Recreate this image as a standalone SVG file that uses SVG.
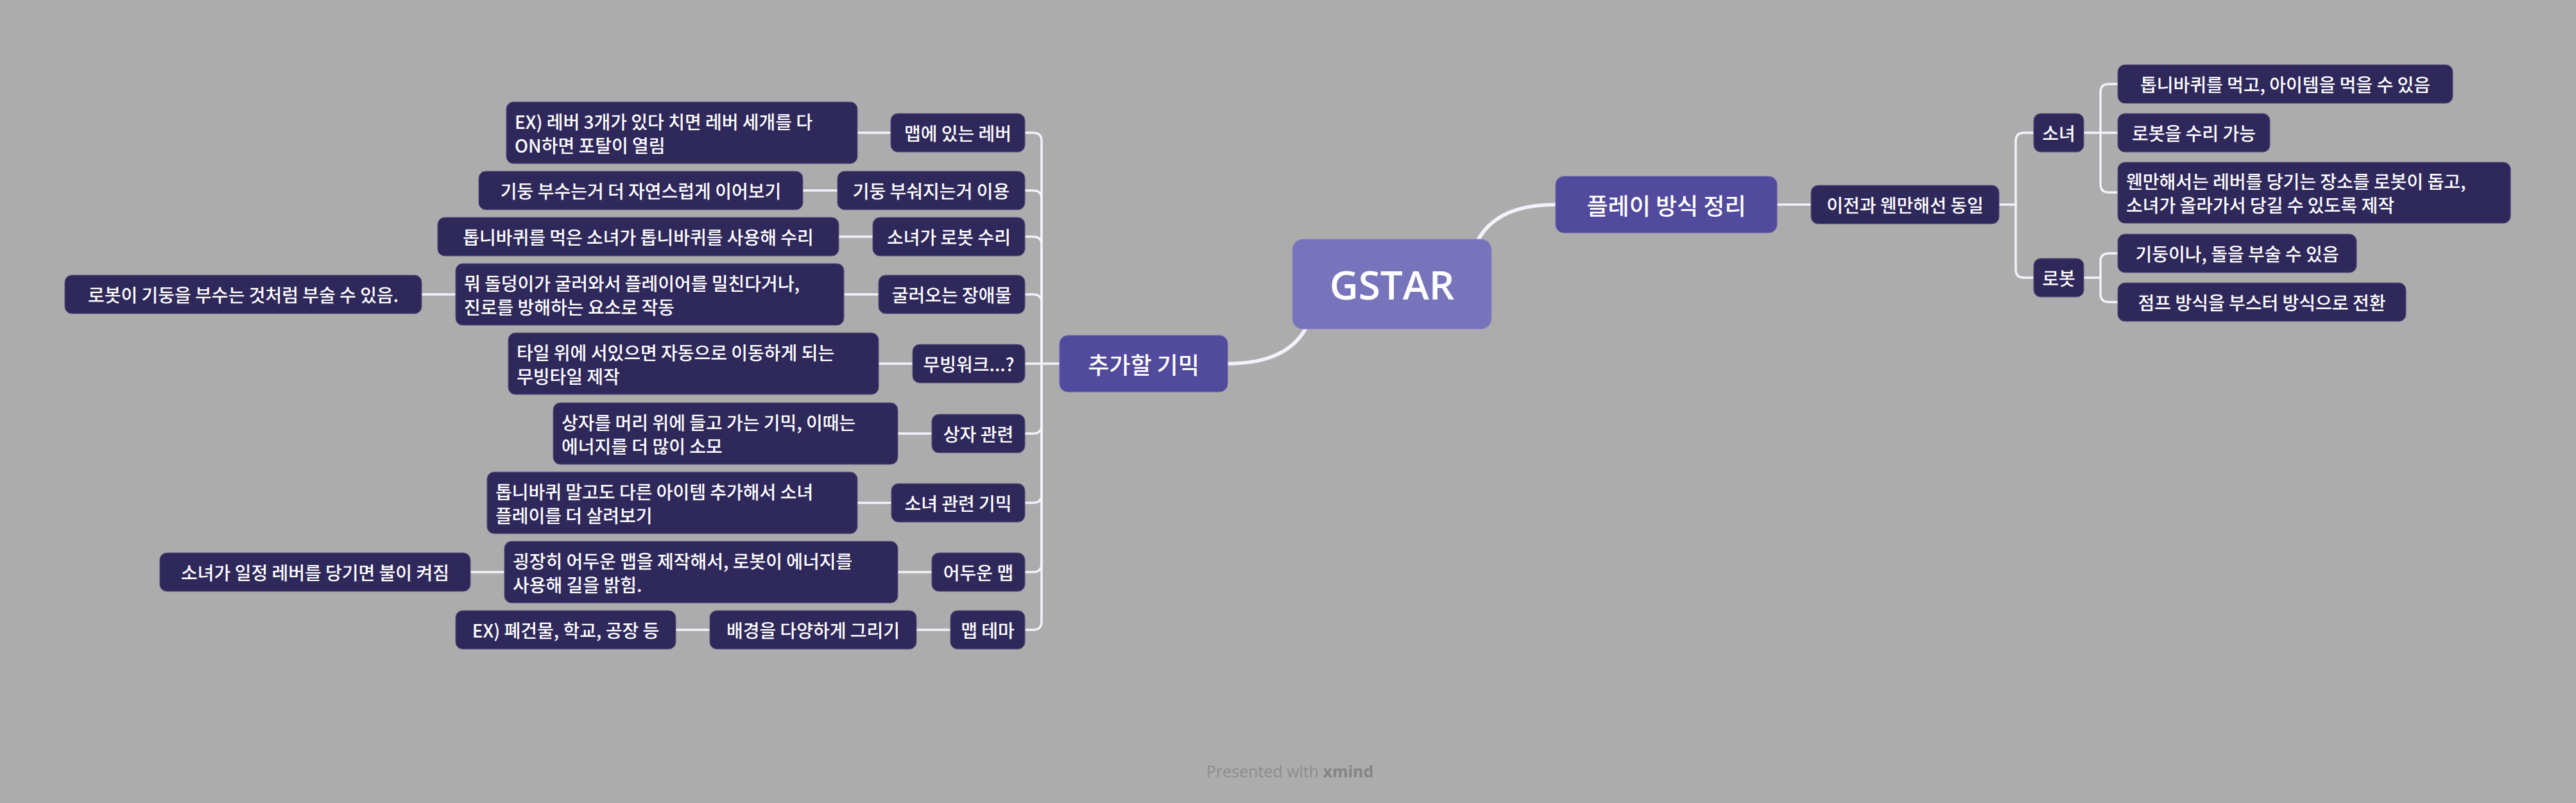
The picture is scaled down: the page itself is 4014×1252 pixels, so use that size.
<svg xmlns="http://www.w3.org/2000/svg" width="4014" height="1252" viewBox="0 0 4014 1252">
<style>
.bg{fill:#ACACAC}
.n rect{fill:#2F285B;stroke:#58527F;stroke-width:1}
.l1 rect{fill:#524A9C;stroke:#6A63AC;stroke-width:1}
.root rect{fill:#7874BC;stroke:#8B87C6;stroke-width:1}
text{fill:#FFFFFF;font-family:"Noto Sans CJK KR","Noto Sans",sans-serif;dominant-baseline:central;font-weight:500}
.n text{font-size:28px}
.l1 text{font-size:36px}
.root text{font-family:"Open Sans","Noto Sans",sans-serif;font-size:62px;font-weight:600}
.c{text-anchor:middle}
.conn path{fill:none;stroke:#F3F1F9;stroke-width:3.5;stroke-linecap:round;stroke-linejoin:round}
.conn path.thick{stroke-width:5.5}
.foot{font-family:"Open Sans","Noto Sans",sans-serif;font-size:25px;fill:#8E8E8E;dominant-baseline:alphabetic;font-weight:400}
</style>
<rect class="bg" x="0" y="0" width="4014" height="1252"/>

<g id="connectors" class="conn">
  <path class="thick" d="M1913,567 Q2050,567 2050,443"/>
  <path class="thick" d="M2424,319 Q2288,319 2288,443"/>
  <path d="M1651,567 H1623"/>
  <path d="M1623,567 V220 Q1623,207 1610,207 H1597"/>
  <path d="M1623,567 V310 Q1623,297 1610,297 H1597"/>
  <path d="M1623,567 V382 Q1623,369 1610,369 H1597"/>
  <path d="M1623,567 V472 Q1623,459 1610,459 H1597"/>
  <path d="M1623,567 H1597"/>
  <path d="M1623,567 V663 Q1623,676 1610,676 H1597"/>
  <path d="M1623,567 V771 Q1623,784 1610,784 H1597"/>
  <path d="M1623,567 V879 Q1623,892 1610,892 H1597"/>
  <path d="M1623,567 V969 Q1623,982 1610,982 H1597"/>
  <path d="M1388,207 H1336"/>
  <path d="M1305,297 H1251"/>
  <path d="M1360,369 H1307"/>
  <path d="M1369,459 H1315"/>
  <path d="M710,459 H657"/>
  <path d="M1422,567 H1369"/>
  <path d="M1452,676 H1399"/>
  <path d="M1389,784 H1336"/>
  <path d="M1452,892 H1399"/>
  <path d="M786,892 H733"/>
  <path d="M1481,982 H1428"/>
  <path d="M1106,982 H1053"/>
  <path d="M2769,319 H2822"/>
  <path d="M3115,319 H3141"/>
  <path d="M3141,319 V220 Q3141,207 3154,207 H3169"/>
  <path d="M3141,319 V420 Q3141,433 3154,433 H3169"/>
  <path d="M3247,207 H3300"/>
  <path d="M3273,207 V144 Q3273,131 3286,131 H3300"/>
  <path d="M3273,207 V287 Q3273,300 3286,300 H3300"/>
  <path d="M3247,433 H3273"/>
  <path d="M3273,433 V408 Q3273,395 3286,395 H3300"/>
  <path d="M3273,433 V458 Q3273,471 3286,471 H3300"/>
</g>

<g id="root" class="root"><rect x="2014" y="373" width="310" height="140" rx="16"/><text class="c" x="2169" y="443">GSTAR</text></g>

<g id="n-gimmick" class="l1"><rect x="1651" y="523" width="262" height="88" rx="13"/><text class="c" x="1782" y="567">추가할 기믹</text></g>
<g id="n-play" class="l1"><rect x="2424" y="275" width="345" height="88" rx="13"/><text class="c" x="2596.5" y="319">플레이 방식 정리</text></g>

<g id="n-lever" class="n"><rect x="1388" y="177" width="209" height="60" rx="11"/><text class="c" x="1492.5" y="207">맵에 있는 레버</text></g>
<g id="n-lever-ex" class="n"><rect x="789" y="159" width="547" height="96" rx="11"/><text x="802" y="188.5">EX) 레버 3개가 있다 치면 레버 세개를 다</text><text x="802" y="225.5">ON하면 포탈이 열림</text></g>

<g id="n-pillar" class="n"><rect x="1305" y="267" width="292" height="60" rx="11"/><text class="c" x="1451" y="297">기둥 부숴지는거 이용</text></g>
<g id="n-pillar-d" class="n"><rect x="746" y="267" width="505" height="60" rx="11"/><text class="c" x="998.5" y="297">기둥 부수는거 더 자연스럽게 이어보기</text></g>

<g id="n-repair" class="n"><rect x="1360" y="339" width="237" height="60" rx="11"/><text class="c" x="1478.5" y="369">소녀가 로봇 수리</text></g>
<g id="n-repair-d" class="n"><rect x="682" y="339" width="625" height="60" rx="11"/><text class="c" x="994.5" y="369">톱니바퀴를 먹은 소녀가 톱니바퀴를 사용해 수리</text></g>

<g id="n-rolling" class="n"><rect x="1369" y="429" width="228" height="60" rx="11"/><text class="c" x="1483" y="459">굴러오는 장애물</text></g>
<g id="n-rolling-d" class="n"><rect x="710" y="411" width="605" height="96" rx="11"/><text x="723" y="440.5">뭐 돌덩이가 굴러와서 플레이어를 밀친다거나,</text><text x="723" y="477.5">진로를 방해하는 요소로 작동</text></g>
<g id="n-rolling-dd" class="n"><rect x="101" y="429" width="556" height="60" rx="11"/><text class="c" x="379" y="459">로봇이 기둥을 부수는 것처럼 부술 수 있음.</text></g>

<g id="n-moving" class="n"><rect x="1422" y="537" width="175" height="60" rx="11"/><text class="c" x="1509.5" y="567">무빙워크...?</text></g>
<g id="n-moving-d" class="n"><rect x="792" y="519" width="577" height="96" rx="11"/><text x="805" y="548.5">타일 위에 서있으면 자동으로 이동하게 되는</text><text x="805" y="585.5">무빙타일 제작</text></g>

<g id="n-box" class="n"><rect x="1452" y="646" width="145" height="60" rx="11"/><text class="c" x="1524.5" y="676">상자 관련</text></g>
<g id="n-box-d" class="n"><rect x="862" y="628" width="537" height="96" rx="11"/><text x="875" y="657.5">상자를 머리 위에 들고 가는 기믹, 이때는</text><text x="875" y="694.5">에너지를 더 많이 소모</text></g>

<g id="n-girl" class="n"><rect x="1389" y="754" width="208" height="60" rx="11"/><text class="c" x="1493" y="784">소녀 관련 기믹</text></g>
<g id="n-girl-d" class="n"><rect x="759" y="736" width="577" height="96" rx="11"/><text x="772" y="765.5">톱니바퀴 말고도 다른 아이템 추가해서 소녀</text><text x="772" y="802.5">플레이를 더 살려보기</text></g>

<g id="n-dark" class="n"><rect x="1452" y="862" width="145" height="60" rx="11"/><text class="c" x="1524.5" y="892">어두운 맵</text></g>
<g id="n-dark-d" class="n"><rect x="786" y="844" width="613" height="96" rx="11"/><text x="799" y="873.5">굉장히 어두운 맵을 제작해서, 로봇이 에너지를</text><text x="799" y="910.5">사용해 길을 밝힘.</text></g>
<g id="n-dark-dd" class="n"><rect x="249" y="862" width="484" height="60" rx="11"/><text class="c" x="491" y="892">소녀가 일정 레버를 당기면 불이 켜짐</text></g>

<g id="n-theme" class="n"><rect x="1481" y="952" width="116" height="60" rx="11"/><text class="c" x="1539" y="982">맵 테마</text></g>
<g id="n-theme-d" class="n"><rect x="1106" y="952" width="322" height="60" rx="11"/><text class="c" x="1267" y="982">배경을 다양하게 그리기</text></g>
<g id="n-theme-dd" class="n"><rect x="710" y="952" width="343" height="60" rx="11"/><text class="c" x="881.5" y="982">EX) 폐건물, 학교, 공장 등</text></g>

<g id="n-same" class="n"><rect x="2822" y="289" width="293" height="60" rx="11"/><text class="c" x="2968.5" y="319">이전과 웬만해선 동일</text></g>
<g id="n-girl-r" class="n"><rect x="3169" y="177" width="78" height="60" rx="11"/><text class="c" x="3208" y="207">소녀</text></g>
<g id="n-robot-r" class="n"><rect x="3169" y="403" width="78" height="60" rx="11"/><text class="c" x="3208" y="433">로봇</text></g>
<g id="n-girl-1" class="n"><rect x="3300" y="101" width="522" height="60" rx="11"/><text class="c" x="3561" y="131">톱니바퀴를 먹고, 아이템을 먹을 수 있음</text></g>
<g id="n-girl-2" class="n"><rect x="3300" y="177" width="237" height="60" rx="11"/><text class="c" x="3418.5" y="207">로봇을 수리 가능</text></g>
<g id="n-girl-3" class="n"><rect x="3300" y="253" width="612" height="95" rx="11"/><text x="3313" y="282">웬만해서는 레버를 당기는 장소를 로봇이 돕고,</text><text x="3313" y="319">소녀가 올라가서 당길 수 있도록 제작</text></g>
<g id="n-robot-1" class="n"><rect x="3300" y="365" width="372" height="60" rx="11"/><text class="c" x="3486" y="395">기둥이나, 돌을 부술 수 있음</text></g>
<g id="n-robot-2" class="n"><rect x="3300" y="441" width="449" height="60" rx="11"/><text class="c" x="3524.5" y="471">점프 방식을 부스터 방식으로 전환</text></g>

<text class="foot" x="2010" y="1212" text-anchor="middle">Presented with <tspan font-weight="700" fill="#858585">xmind</tspan></text>
</svg>
